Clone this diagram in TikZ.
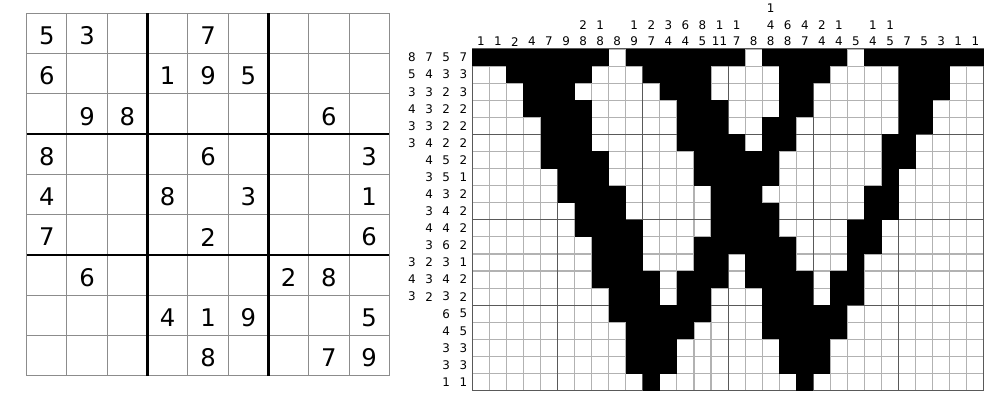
\documentclass[tikz,border=0pt]{standalone}
\usepackage{fontspec}
\setmainfont{DejaVu Sans}
\usepackage{tikz}
\tikzset{
  thinline/.style={draw=black!45, line width=1pt},
  thickline/.style={draw=black, line width=2.2pt},
  nonoline/.style={draw=black!30, line width=1.1pt},
  nonothick/.style={draw=black!65, line width=1pt},
  given/.style={font=\fontsize{24.3}{26}\selectfont, inner sep=0pt},
  clue/.style={font=\fontsize{11.9}{13}\selectfont, inner sep=0pt},
}
\begin{document}
\begin{tikzpicture}[x=1pt,y=-1pt]
\useasboundingbox (0,0) rectangle (995,401);
\begin{scope}[shift={(26.7,13.3)},x=40.29pt,y=-40.29pt]
	\foreach \i in {0,...,9}{
		\draw[thinline] (\i,0)--(\i,9);
		\draw[thinline] (0,\i)--(9,\i);
	}
	\foreach \i in {3,6}{
		\draw[thickline] (\i,0)--(\i,9);
		\draw[thickline] (0,\i)--(9,\i);
	}
	\foreach \r/\c/\d in {1/1/5,1/2/3,1/5/7,2/1/6,2/4/1,2/5/9,2/6/5,3/2/9,3/3/8,3/8/6,4/1/8,4/5/6,4/9/3,5/1/4,5/4/8,5/6/3,5/9/1,6/1/7,6/5/2,6/9/6,7/2/6,7/7/2,7/8/8,8/4/4,8/5/1,8/6/9,8/9/5,9/5/8,9/8/7,9/9/9}
	\node[given] (sd-\r-\c) at (\c-0.5,\r-0.445) {\d};
\end{scope}
\begin{scope}[shift={(472.3,49)},x=17.05pt,y=-17.08pt]
	\foreach \i in {0,...,30} \draw[nonoline] (\i,0)--(\i,20);
	\foreach \i in {0,...,20} \draw[nonoline] (0,\i)--(30,\i);
	\foreach \i in {5,10,...,25} \draw[nonothick] (\i,0)--(\i,20);
	\foreach \i in {5,10,15} \draw[nonothick] (0,\i)--(30,\i);
	\draw[nonothick] (0,0) rectangle (30,20);
	\foreach \r/\runs in {1/{1/8,10/16,18/22,24/30},2/{3/7,11/14,19/21,26/28},3/{4/6,12/14,19/20,26/28},4/{4/7,13/15,19/20,26/27},5/{5/7,13/15,18/19,26/27},6/{5/7,13/16,18/19,25/26},7/{5/8,14/18,25/26},8/{6/8,14/18,25/25},9/{6/9,15/17,24/25},10/{7/9,15/18,24/25},11/{7/10,15/18,23/24},12/{8/10,14/19,23/24},13/{8/10,14/15,17/19,23/23},14/{8/11,13/15,17/20,22/23},15/{9/11,13/14,18/20,22/23},16/{9/14,18/22},17/{10/13,18/22},18/{10/12,19/21},19/{10/12,19/21},20/{11/11,20/20}}
	\foreach \a/\b in \runs
	\fill (\a-1,\r-1) rectangle (\b,\r);
	\foreach \r/\n/\nums in {1/4/{8,7,5,7},2/4/{5,4,3,3},3/4/{3,3,2,3},4/4/{4,3,2,2},5/4/{3,3,2,2},6/4/{3,4,2,2},7/3/{4,5,2},8/3/{3,5,1},9/3/{4,3,2},10/3/{3,4,2},11/3/{4,4,2},12/3/{3,6,2},13/4/{3,2,3,1},14/4/{4,3,4,2},15/4/{3,2,3,2},16/2/{6,5},17/2/{4,5},18/2/{3,3},19/2/{3,3},20/2/{1,1}}
	\foreach \v [count=\k] in \nums
	\node[clue] (rc-\r-\k) at ({-0.52-(\n-\k)*1.008},\r-0.5) {\v};
	\foreach \c/\n/\nums in {1/1/1,2/1/1,3/1/2,4/1/4,5/1/7,6/1/9,7/2/{2,8},8/2/{1,8},9/1/8,10/2/{1,9},11/2/{2,7},12/2/{3,4},13/2/{6,4},14/2/{8,5},15/2/{1,11},16/2/{1,7},17/1/8,18/3/{1,4,8},19/2/{6,8},20/2/{4,7},21/2/{2,4},22/2/{1,4},23/1/5,24/2/{1,4},25/2/{1,5},26/1/7,27/1/5,28/1/3,29/1/1,30/1/1}
	\foreach \v [count=\k] in \nums
	\node[clue] (cc-\c-\k) at (\c-0.5,{-0.43-(\n-\k)*0.977}) {\v};
\end{scope}
\end{tikzpicture}
\end{document}
